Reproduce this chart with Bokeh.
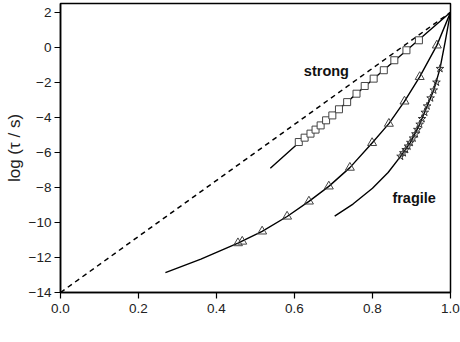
from bokeh.plotting import figure
from bokeh.models import Range1d, Label, FixedTicker, PrintfTickFormatter
from bokeh.embed import file_html
from bokeh.resources import INLINE
from bokeh.core.properties import value

# Arrhenius (dashed) reference line
ref_x = [0.0, 1.0]
ref_y = [-14.0, 2.0]

# strong liquid
strong_line_x = [0.538, 0.611, 0.714, 0.803, 0.887, 1.0]
strong_line_y = [-6.91, -5.45, -3.53, -1.80, -0.18, 2.0]
strong_x = [0.611, 0.626, 0.641, 0.654, 0.667, 0.681, 0.697, 0.714,
            0.735, 0.759, 0.780, 0.803, 0.829, 0.856, 0.887, 0.919]
strong_y = [-5.41, -5.16, -4.93, -4.70, -4.46, -4.17, -3.89, -3.54,
            -3.13, -2.65, -2.21, -1.79, -1.31, -0.74, -0.17, 0.40]

# intermediate liquid
mid_line_x = [0.269, 0.36, 0.455, 0.517, 0.581, 0.637, 0.688, 0.742,
              0.799, 0.842, 0.882, 0.921, 0.965, 1.0]
mid_line_y = [-12.87, -12.09, -11.18, -10.51, -9.66, -8.80, -7.94, -6.87,
              -5.46, -4.36, -3.09, -1.69, 0.11, 2.0]
mid_x = [0.455, 0.466, 0.517, 0.581, 0.637, 0.688, 0.742, 0.799,
         0.842, 0.882, 0.921, 0.965]
mid_y = [-11.18, -11.09, -10.51, -9.66, -8.80, -7.94, -6.87, -5.46,
         -4.36, -3.09, -1.69, 0.11]

# fragile liquid
frag_line_x = [0.703, 0.75, 0.80, 0.84, 0.872, 0.897, 0.921, 0.94,
               0.957, 0.973, 0.987, 1.0]
frag_line_y = [-9.64, -8.95, -8.05, -7.15, -6.23, -5.44, -4.40, -3.36,
               -2.45, -1.22, 0.40, 2.0]
frag_x = [0.872, 0.879, 0.885, 0.891, 0.897, 0.904, 0.910, 0.915,
          0.921, 0.927, 0.934, 0.940, 0.949, 0.957, 0.964, 0.973]
frag_y = [-6.23, -6.03, -5.85, -5.65, -5.44, -5.19, -4.95, -4.70,
          -4.40, -4.08, -3.72, -3.36, -2.90, -2.45, -2.00, -1.22]

x_ticks = [0.0, 0.2, 0.4, 0.6, 0.8, 1.0]
y_ticks = [-14, -12, -10, -8, -6, -4, -2, 0, 2]

FONT = "Liberation Sans"

p = figure(width=460, height=342, output_backend="svg", toolbar_location=None,
           x_range=Range1d(0, 1), y_range=Range1d(-14, 2.5),
           min_border_left=60, min_border_right=10, min_border_top=3,
           min_border_bottom=50)
p.background_fill_color = "white"
p.border_fill_color = "white"
p.grid.visible = False
p.outline_line_color = "black"
p.outline_line_width = 1.5

for ax in (p.xaxis[0], p.yaxis[0]):
    ax.axis_line_width = 1.5
    ax.axis_line_color = "black"
    ax.major_tick_line_width = 1.2
    ax.major_tick_line_color = "black"
    ax.major_tick_out = 6
    ax.major_tick_in = 0
    ax.minor_tick_line_color = None
    ax.major_label_text_font = FONT
    ax.major_label_text_font_size = "13.5px"
    ax.major_label_text_color = "#222222"

p.xaxis[0].ticker = FixedTicker(ticks=x_ticks)
p.xaxis[0].formatter = PrintfTickFormatter(format="%.1f")
p.yaxis[0].ticker = FixedTicker(ticks=y_ticks)
p.xaxis[0].major_label_standoff = 5
p.yaxis[0].major_label_standoff = 3

p.yaxis[0].axis_label = "log (\u03c4 / s)"
p.yaxis[0].axis_label_text_font = FONT
p.yaxis[0].axis_label_text_font_size = "17px"
p.yaxis[0].axis_label_text_font_style = "normal"
p.yaxis[0].axis_label_text_color = "#222222"
p.yaxis[0].axis_label_standoff = 2

# dashed Arrhenius line
p.line(ref_x, ref_y, line_color="black", line_width=1.5, line_dash="5 4")

# curves
p.line(strong_line_x, strong_line_y, line_color="black", line_width=1.4, line_join="round")
p.line(mid_line_x, mid_line_y, line_color="black", line_width=1.4, line_join="round")
p.line(frag_line_x, frag_line_y, line_color="black", line_width=1.4, line_join="round")

# markers
p.scatter(strong_x, strong_y, marker="square", size=7, fill_color="white",
          line_color="#444444", line_width=1)
p.scatter(mid_x, mid_y, marker="triangle", size=9, fill_color="white",
          fill_alpha=0.0, line_color="#444444", line_width=1)
p.scatter(frag_x, frag_y, marker="star", size=8, fill_color="white",
          fill_alpha=0.0, line_color="#333333", line_width=1)

# annotations
p.text(x=[0.624], y=[-1.37], text=["strong"], text_font=value(FONT),
       text_font_size="14.5px", text_font_style="bold", text_color="#111111",
       text_baseline="alphabetic", text_align="left")
p.text(x=[0.851], y=[-8.59], text=["fragile"], text_font=value(FONT),
       text_font_size="14.5px", text_font_style="bold", text_color="#111111",
       text_baseline="alphabetic", text_align="left")

# x axis label: T_g / T
p.add_layout(Label(x=0.453, y=-16.34, text="T", text_font=FONT,
                   text_font_size="17px", text_color="#222222",
                   text_baseline="alphabetic", text_align="left"))
p.add_layout(Label(x=0.481, y=-16.51, text="g", text_font=FONT,
                   text_font_size="11px", text_color="#222222",
                   text_baseline="alphabetic", text_align="left"))
p.add_layout(Label(x=0.495, y=-16.34, text="/ T", text_font=FONT,
                   text_font_size="17px", text_color="#222222",
                   text_baseline="alphabetic", text_align="left"))

open("out.html", "w").write(file_html(p, INLINE))
